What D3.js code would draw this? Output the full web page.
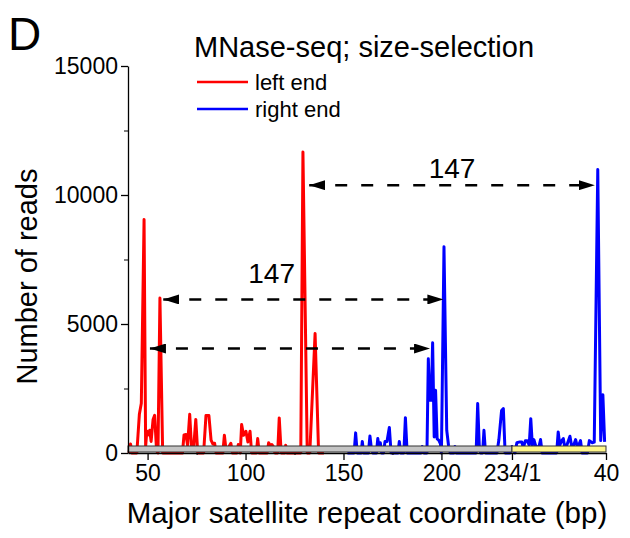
<!DOCTYPE html>
<html>
<head>
<meta charset="utf-8">
<script src="https://cdn.jsdelivr.net/npm/d3@7"></script>
<style>
  body { margin: 0; background: #fff; }
  svg { font-family: "Liberation Sans", Arial, sans-serif; }
</style>
</head>
<body>
<div id="chart"></div>
<script>
// left end (red) reads, [coordinate, reads]
const leftEnd = [
  [40.5, 0], [41.3, 350], [42, 0], [44.5, 0], [45.8, 1500], [46.8, 1930], [48.2, 9050],
  [49, 250], [49.6, 850], [50.4, 700], [51.1, 880], [51.8, 450], [52.8, 1300], [53.6, 1460],
  [54.6, 80], [55.3, 0], [56.3, 6010], [57.7, 0], [67.8, 0], [68.6, 700], [69.6, 720],
  [70.4, 300], [71.5, 1500], [72.5, 100], [73.5, 200], [74.6, 1300], [75.6, 0], [78.6, 0],
  [79.8, 1450], [81.3, 1450], [82.4, 500], [83.3, 350], [84.2, 380], [85, 0], [88.4, 0],
  [89.2, 690], [90, 150], [91.2, 200], [92.5, 380], [93.3, 0], [95.5, 0], [96.3, 330],
  [97.3, 0], [98, 1100], [99, 690], [100.2, 840], [101.2, 430], [102.3, 840], [103.1, 0],
  [105.5, 0], [106.2, 560], [107, 0], [111, 0], [111.8, 400], [112.6, 300], [113.4, 330],
  [114.2, 250], [115, 0], [116.4, 0], [117.2, 1360], [118.2, 0], [120, 0], [120.5, 300],
  [121.2, 0], [128.2, 0], [129.3, 11670], [131.5, 0], [132.8, 0], [135.5, 4630], [137.3, 0],
  [140, 0]
];

// right end (blue) reads, [coordinate, reads]
const rightEnd = [
  [152, 0], [155.4, 0], [156.2, 780], [157, 0], [159, 0], [159.6, 450], [160.3, 0],
  [162.7, 0], [163.5, 660], [164.2, 200], [165, 0], [166.8, 0], [167.5, 560], [168.2, 200],
  [168.8, 400], [169.5, 0], [170.4, 0], [171.2, 450], [172.2, 450], [173.4, 990], [174.3, 0],
  [177.8, 0], [178.5, 450], [179.2, 0], [180.8, 0], [181.6, 1370], [182.5, 0], [189.5, 0],
  [190.2, 250], [191, 0], [192.6, 0], [193.3, 3650], [194, 2040], [194.8, 2040], [195.5, 4270],
  [196.3, 620], [197, 2430], [197.8, 550], [198.6, 500], [199.5, 350], [200, 0], [201.3, 7990],
  [202.7, 880], [203.6, 300], [204.5, 0], [206.3, 0], [206.9, 250], [207.6, 0], [217.7, 0],
  [218.5, 1920], [219.3, 300], [220, 0], [221, 0], [221.7, 880], [222.5, 0], [228.3, 0],
  [229.3, 500], [230.7, 1650], [231.6, 1720], [232.5, 0], [235, 0], [236, 250], [237.5, 0],
  [238.5, 400], [240, 430], [241, 430], [241.8, 200], [242.8, 470], [243.8, 470], [244.8, 300],
  [245.6, 1330], [246.4, 300], [247.2, 520], [248, 300], [249.5, 150], [250.6, 520], [251.4, 0],
  [258.8, 0], [259.6, 815], [260.4, 300], [261.4, 480], [262.2, 560], [263, 200], [264, 300],
  [265.6, 650], [266.5, 250], [267.5, 300], [268.5, 520], [269.5, 200], [271, 480], [271.8, 0],
  [274.5, 0], [275.5, 480], [277, 400], [278, 420], [279.8, 10990], [281.3, 480],
  [282.4, 2260], [283.3, 430]
];

const yTicks = [0, 5000, 10000, 15000];
const yMinorTicks = [2500, 7500, 12500];
const xTicks = [50, 100, 150, 200, 236, 284];
const xTickLabels = ["50", "100", "150", "200", "234/1", "40"];
const xMinorTicks = [75, 125, 175];

// nucleosome spacing arrows: from, to, reads level
const spacingArrows = [
  { from: 132.5, to: 278.3, reads: 10380 },
  { from: 58, to: 201, reads: 5950 },
  { from: 51.2, to: 194.2, reads: 4050 }
];
const spacingLabels = [
  { at: 205.4, reads: 10650, text: "147" },
  { at: 113.3, reads: 6590, text: "147" }
];

// coordinate bar segments under the axis
const repeatBar = [
  { from: 40, to: 236, color: "#c4c4c4" },
  { from: 236, to: 284, color: "#fff68a" }
];

const width = 630;
const height = 538;

const svg = d3
  .select("#chart")
  .append("svg")
  .attr("width", width)
  .attr("height", height);

const x = d3.scaleLinear().domain([40, 284]).range([128, 606]);
const y = d3.scaleLinear().domain([0, 15000]).range([453, 66]);

// arrow head
const defs = svg.append("defs");
defs
  .append("marker")
  .attr("id", "head")
  .attr("viewBox", "0 0 16 10")
  .attr("refX", 16)
  .attr("refY", 5)
  .attr("markerWidth", 16)
  .attr("markerHeight", 10)
  .attr("markerUnits", "userSpaceOnUse")
  .attr("orient", "auto-start-reverse")
  .append("path")
  .attr("d", "M0,0 L16,5 L0,10 Z")
  .attr("fill", "#000");

// data lines
const line = d3
  .line()
  .x((d) => x(d[0]))
  .y((d) => y(d[1]));

svg
  .append("path")
  .datum(leftEnd)
  .attr("d", line)
  .attr("fill", "none")
  .attr("stroke", "#ff0000")
  .attr("stroke-width", 3)
  .attr("stroke-linejoin", "round");

svg
  .append("path")
  .datum(rightEnd)
  .attr("d", line)
  .attr("fill", "none")
  .attr("stroke", "#0000ff")
  .attr("stroke-width", 3)
  .attr("stroke-linejoin", "round");

// repeat bar covers the baseline
svg
  .selectAll("rect.bar")
  .data(repeatBar)
  .enter()
  .append("rect")
  .attr("class", "bar")
  .attr("x", (d) => x(d.from))
  .attr("width", (d) => x(d.to) - x(d.from))
  .attr("y", y(0) - 7)
  .attr("height", 6)
  .attr("fill", (d) => d.color)
  .attr("stroke", "#333")
  .attr("stroke-width", 1);

// arrows
svg
  .selectAll("line.arrow")
  .data(spacingArrows)
  .enter()
  .append("line")
  .attr("class", "arrow")
  .attr("x1", (d) => x(d.from))
  .attr("x2", (d) => x(d.to))
  .attr("y1", (d) => y(d.reads))
  .attr("y2", (d) => y(d.reads))
  .attr("stroke", "#000")
  .attr("stroke-width", 2.5)
  .attr("stroke-dasharray", "12,14")
  .attr("marker-start", "url(#head)")
  .attr("marker-end", "url(#head)");

svg
  .selectAll("text.spacing")
  .data(spacingLabels)
  .enter()
  .append("text")
  .attr("class", "spacing")
  .attr("x", (d) => x(d.at))
  .attr("y", (d) => y(d.reads))
  .attr("text-anchor", "middle")
  .attr("font-size", 28)
  .text((d) => d.text);

// axes
const yAxis = svg
  .append("g")
  .attr("transform", `translate(${x(40)},0)`)
  .call(
    d3
      .axisLeft(y)
      .tickValues(yTicks)
      .tickFormat(d3.format("d"))
      .tickSize(7)
      .tickSizeOuter(0)
      .tickPadding(3)
  );
svg
  .append("g")
  .attr("transform", `translate(${x(40)},0)`)
  .call(d3.axisLeft(y).tickValues(yMinorTicks).tickSize(4).tickFormat(""))
  .select(".domain")
  .remove();

const xAxis = svg
  .append("g")
  .attr("transform", `translate(0,${y(0)})`)
  .call(
    d3
      .axisBottom(x)
      .tickValues(xTicks)
      .tickFormat((d, i) => xTickLabels[i])
      .tickSize(7)
      .tickSizeOuter(0)
      .tickPadding(5)
  );
svg
  .append("g")
  .attr("transform", `translate(0,${y(0)})`)
  .call(d3.axisBottom(x).tickValues(xMinorTicks).tickSize(2).tickFormat(""))
  .select(".domain")
  .remove();

[yAxis, xAxis].forEach((g) => {
  g.selectAll("text").attr("font-size", 23).attr("fill", "#000");
  g.selectAll("line, path").attr("stroke", "#000").attr("stroke-width", 1.3);
});
svg.selectAll(".tick text").style("font-family", "Liberation Sans, Arial, sans-serif");

// titles
svg
  .append("text")
  .attr("x", (x(40) + x(284)) / 2)
  .attr("y", 523)
  .attr("text-anchor", "middle")
  .attr("font-size", 29.5)
  .text("Major satellite repeat coordinate (bp)");

svg
  .append("text")
  .attr("transform", `translate(37,${(y(0) + y(15000)) / 2 + 17}) rotate(-90)`)
  .attr("text-anchor", "middle")
  .attr("font-size", 29)
  .text("Number of reads");

svg
  .append("text")
  .attr("x", 8)
  .attr("y", 50)
  .attr("font-size", 46)
  .text("D");

// legend
svg
  .append("text")
  .attr("x", 194)
  .attr("y", 57)
  .attr("font-size", 29)
  .text("MNase-seq; size-selection");

const legendItems = [
  { label: "left end", color: "#ff0000", yPos: 82 },
  { label: "right end", color: "#0000ff", yPos: 109 }
];
const legend = svg.selectAll("g.legend").data(legendItems).enter().append("g").attr("class", "legend");
legend
  .append("line")
  .attr("x1", 197)
  .attr("x2", 248)
  .attr("y1", (d) => d.yPos)
  .attr("y2", (d) => d.yPos)
  .attr("stroke", (d) => d.color)
  .attr("stroke-width", 2.5);
legend
  .append("text")
  .attr("x", 255)
  .attr("y", (d) => d.yPos + 8)
  .attr("font-size", 22)
  .text((d) => d.label);
</script>
</body>
</html>
